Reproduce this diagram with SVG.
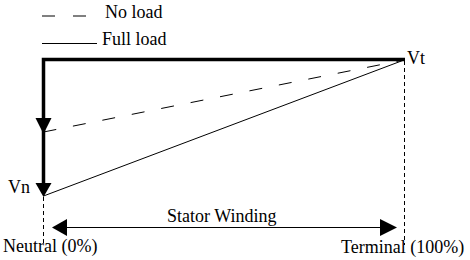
<svg xmlns="http://www.w3.org/2000/svg" width="470" height="260" viewBox="0 0 470 260">
<style>
text{font-family:"Liberation Serif","Times New Roman",serif;font-size:18px;fill:#000}
.thick{stroke:#000;stroke-width:3.5;fill:none}
.thin{stroke:#000;stroke-width:1;fill:none}
.dash{stroke:#000;stroke-width:1;fill:none;stroke-dasharray:13,17}
.vdash{stroke:#000;stroke-width:1;fill:none;stroke-dasharray:4,3}
.head{fill:#000}
</style>
<rect width="470" height="260" fill="#fff"/>
<g id="legend">
<line class="thin" x1="42" y1="16" x2="55" y2="16"/>
<line class="thin" x1="73" y1="16" x2="86" y2="16"/>
<text x="105" y="18">No load</text>
<line class="thin" x1="42" y1="43.5" x2="97" y2="43.5"/>
<text x="102" y="45">Full load</text>
</g>
<g id="connectors">
<path class="thick" d="M405,59.5 H43.5 V190"/>
<polygon class="head" points="35.5,118 51.5,118 43.5,134"/>
<polygon class="head" points="35.5,183 51.5,183 43.5,197"/>
<line class="dash" x1="43.5" y1="132" x2="404" y2="60"/>
<line class="thin" x1="43.5" y1="196" x2="404" y2="60"/>
<line class="vdash" x1="43.5" y1="197" x2="43.5" y2="245"/>
<line class="vdash" x1="404.5" y1="61" x2="404.5" y2="245"/>
<line class="thin" x1="60" y1="227.5" x2="388" y2="227.5"/>
<polygon class="head" points="52,227.5 67,219 67,236"/>
<polygon class="head" points="397,227.5 380,219 380,236"/>
</g>
<g id="Vt"><text x="407" y="64">Vt</text></g>
<g id="Vn"><text x="8" y="193">Vn</text></g>
<g id="stator"><text x="167" y="222">Stator Winding</text></g>
<g id="neutral"><text x="3" y="252">Neutral (0%)</text></g>
<g id="terminal"><text x="341" y="253">Terminal (100%)</text></g>
</svg>
